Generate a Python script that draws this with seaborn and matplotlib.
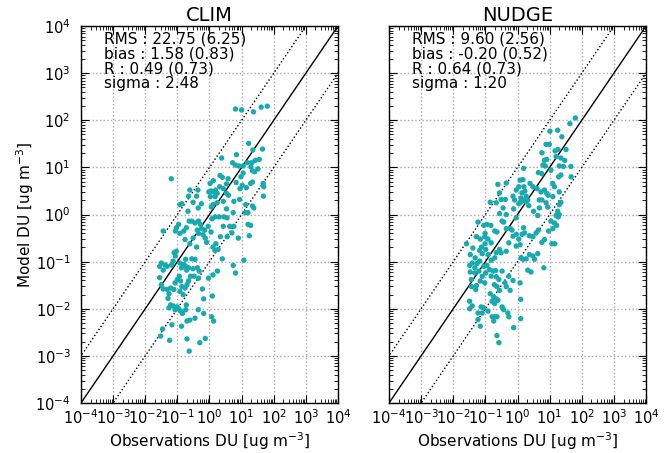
import numpy as np
import pandas as pd
import matplotlib
matplotlib.use("Agg")
import matplotlib.pyplot as plt
import seaborn as sns

# Dust concentrations, stored as log10(ug m-3): observations vs model
clim_obs_log = [
    0.81, 1.00, 1.37, 1.61, 1.80, 1.22, 1.35, 1.65, 0.38, 0.84,
    0.72, 0.81, 0.92, 1.05, 1.18, 1.32, 1.43, 1.55, 1.29, 1.34,
    1.51, 1.41, -1.19, 0.33, 0.40, 0.12, 0.02, 0.58, 0.53, 0.83,
    0.98, 1.05, 1.02, 0.95, 1.28, 1.34, 1.67, 1.69, 1.68, 1.15,
    -0.02, 0.05, 0.12, 0.19, 0.24, 0.03, 0.18, -0.36, -0.40, -0.65,
    -0.61, 0.32, 0.43, 0.53, 0.59,
    -0.92, -0.86, -0.67, -0.51, -0.35, -0.25, 0.11, 0.24, 0.06, 0.43,
    0.76, 0.94, 1.13, 1.34, 1.38, 1.12, 1.20, 0.53, 0.74,
    -1.44, -1.03, -0.96, -1.06, -0.92, -0.80, -0.72, -0.63, -0.55, -0.45,
    -0.34, -0.28, -0.38, -0.24, -0.15, -0.04, 0.08, 0.17, 0.30, 0.45,
    0.55, 0.43, 0.63, 0.70, 0.34, 0.55, 0.20, 0.11, -0.13, -0.09,
    0.05, -0.20, -0.40, -0.61, -0.76, -0.51, -0.34, 0.90, 0.76, 1.20,
    1.28, 1.24, 1.07, 0.17, 0.27,
    -1.50, -1.55, -1.44, -1.38, -1.32, -1.18, -1.13, -1.10, -1.03, -1.06,
    -0.92, -0.87, -0.80, -0.74, -0.71, -0.65, -0.74, -0.55, -0.45, -0.38,
    -0.32, -0.48, -0.34, -0.03, 0.11, 0.25, 0.40, 0.74, 0.81,
    -1.55, -1.50, -1.44, -1.32, -1.26, -1.21, -1.11, -1.07, -1.00, -0.94,
    -0.90, -0.86, -0.92, -0.82, -0.76, -0.70, -0.65, -0.59, -0.51, -0.22,
    -0.18, 0.09,
    -1.29, -1.26, -1.13, -1.07, -1.01, -0.97, -0.90, -0.72, -0.74, -0.70,
    -0.61, -0.45, -0.35, -0.18, 0.07, 0.13, -0.84, -1.21, -1.46, -1.52,
    -1.17, -0.87, -1.24, -0.70, -0.30, -0.13, -0.63,
]
clim_mod_log = [
    2.24, 2.22, 2.18, 2.28, 2.30, 1.51, 1.37, 1.39, 1.20, 1.27,
    1.10, 1.05, 1.03, 1.03, 1.10, 1.10, 1.15, 1.17, 1.01, 0.93,
    0.97, 0.91, 0.76, 0.83, 0.79, 0.72, 0.66, 0.76, 0.65, 0.68,
    0.80, 0.88, 0.62, 0.55, 0.66, 0.69, 0.66, 0.59, 0.39, 0.57,
    0.48, 0.50, 0.48, 0.52, 0.45, 0.38, 0.38, 0.52, 0.39, 0.39,
    0.52, 0.59, 0.55, 0.45, 0.41,
    0.21, 0.23, 0.07, 0.26, 0.14, 0.23, 0.21, 0.25, 0.16, 0.28,
    0.28, 0.32, 0.21, 0.18, 0.14, 0.04, 0.04, 0.12, 0.04,
    -0.35, -0.28, -0.21, -0.35, -0.40, -0.35, -0.28, -0.14, -0.14, -0.18,
    -0.14, -0.21, -0.33, -0.30, -0.33, -0.25, -0.09, -0.05, -0.05, -0.05,
    -0.07, -0.25, -0.25, -0.39, -0.47, -0.47, -0.62, -0.69, -0.50, -0.59,
    -0.37, -0.43, -0.69, -0.62, -0.53, -0.50, -0.40, -0.50, -0.25, -0.21,
    -0.23, -0.45, -0.97, -0.76, -0.74,
    -1.03, -1.10, -1.18, -1.07, -1.10, -1.07, -0.99, -0.81, -0.78, -0.88,
    -1.03, -1.13, -1.06, -1.10, -1.18, -1.13, -0.95, -0.94, -0.95, -1.13,
    -1.20, -1.31, -1.35, -1.35, -1.28, -1.20, -0.94, -1.08, -1.24,
    -1.34, -1.49, -1.58, -1.59, -1.68, -1.56, -1.59, -1.45, -1.38, -1.31,
    -1.41, -1.53, -1.63, -1.70, -1.56, -1.49, -1.41, -1.31, -1.15, -1.58,
    -1.79, -1.73,
    -1.78, -1.98, -1.94, -2.02, -1.96, -1.99, -2.05, -1.92, -2.02, -2.26,
    -2.24, -2.20, -2.02, -2.10, -2.17, -2.26, -2.10, -1.92, -2.43, -2.58,
    -2.34, -2.37, -2.67, -2.64, -2.72, -2.63, -2.90,
]

nudge_obs_log = [
    1.80, 1.63, 1.01, 1.25, 1.38, 0.89, 0.99, 1.17, 1.26, 1.51,
    0.76, 0.84, 0.91, 1.20, 1.35, 1.47, 0.79, 0.87, 1.30, 1.43,
    1.66, 0.19, 0.65, 0.75, 1.04, 1.28, 1.35, 1.67, -0.61, -0.35,
    0.08, 0.17, 0.39, 0.04, 0.20, -0.04, 0.14, 0.23, 0.73, 0.84,
    1.10, 1.15, 0.48, 0.61, 0.91, 0.95, 1.10, 1.30, -0.56, -0.51,
    -0.38, -0.14, -0.09, 0.11, 0.27, 0.32, 0.68, 0.76,
    -0.85, -0.66, 0.04, 0.10, 0.17, 0.27, 0.89, 1.30, 1.35, 1.25,
    1.20, 0.94, 0.68, 0.63, 0.50, 0.35, -0.45, -0.56, -0.35, -0.12,
    -0.04,
    -1.59, -1.23, -1.05, -0.95, -0.83, -1.01, -1.02, -0.92, -0.82, -0.71,
    -0.64, -0.48, -0.43, -0.35, -0.23, -0.17, -0.04, 0.04, 0.14, 0.22,
    0.19, 0.37, 0.48, 0.58, 0.65, 0.76, 0.84, 0.97, 1.10, 1.04,
    1.15, 1.22, 1.27, 1.30, 1.07, 1.16, -1.28, -1.16, -1.01, -1.12,
    -1.39, -1.47, -1.32, -1.18, -1.10, -0.99, -0.91, -0.82, -0.71, -0.66,
    -0.56, -0.51, -0.35, -0.27, -0.14, -0.04, 0.08, 0.11, 0.17, 0.27,
    0.37, 0.48, 0.53, 0.63, 0.32, 0.42, 0.82,
    -1.49, -1.41, -1.33, -1.26, -1.18, -1.20, -1.33, -1.47, -1.44, -1.28,
    -1.43, -1.30, -1.16, -1.10, -1.02, -0.99, -1.05, -0.95, -0.87, -0.82,
    -0.76, -0.68, -0.66, -0.72, -0.64, -0.58, -0.56, -0.48, -0.39, -0.35,
    -0.27, -0.23, -0.14, 0.08, 0.10, -0.85, -0.74, -0.66, -0.79, -0.71,
    -0.61,
    -1.49, -1.49, -1.41, -1.23, -1.13, -1.05, -1.10, -0.92, -0.79, -0.71,
    -0.64, -0.74, -0.48, -0.43, -0.30, -0.27, -0.12, 0.10, -1.23, -1.16,
    -0.64, -0.58,
]
nudge_mod_log = [
    2.05, 1.93, 1.77, 1.79, 1.65, 1.49, 1.49, 1.35, 1.38, 1.38,
    1.31, 1.15, 1.17, 1.23, 1.20, 1.15, 1.05, 1.03, 1.03, 1.02,
    1.02, 0.98, 0.89, 0.87, 0.94, 0.80, 0.84, 0.80, 0.64, 0.67,
    0.73, 0.74, 0.66, 0.59, 0.59, 0.52, 0.46, 0.50, 0.48, 0.52,
    0.66, 0.59, 0.59, 0.55, 0.45, 0.41, 0.38, 0.48, 0.46, 0.32,
    0.32, 0.39, 0.31, 0.35, 0.39, 0.31, 0.31, 0.31,
    0.26, 0.25, 0.23, 0.26, 0.30, 0.28, 0.25, 0.21, 0.26, 0.07,
    -0.02, 0.16, 0.14, -0.02, 0.07, 0.19, 0.14, 0.02, 0.00, 0.12,
    -0.07,
    -0.62, -0.16, -0.23, -0.21, -0.23, -0.40, -0.47, -0.52, -0.60, -0.35,
    -0.37, -0.14, -0.16, -0.30, -0.30, -0.33, -0.42, -0.52, -0.42, -0.39,
    -0.28, -0.45, -0.47, -0.39, -0.33, -0.59, -0.53, -0.35, -0.30, -0.14,
    -0.18, -0.23, -0.05, 0.00, -0.62, -0.62, -0.47, -0.52, -0.62, -0.69,
    -0.71, -0.85, -0.92, -0.76, -0.83, -0.74, -0.85, -0.97, -0.92, -0.81,
    -0.74, -0.81, -0.78, -0.60, -0.46, -0.67, -0.64, -0.92, -0.95, -0.94,
    -0.85, -0.88, -0.95, -0.83, -1.18, -1.22, -1.13,
    -1.08, -1.03, -1.13, -1.04, -0.99, -1.20, -1.24, -1.22, -1.38, -1.51,
    -1.53, -1.59, -1.41, -1.31, -1.45, -1.24, -1.10, -1.08, -1.17, -1.31,
    -1.20, -1.19, -1.32, -1.49, -1.53, -1.38, -1.61, -1.20, -1.45, -1.53,
    -1.31, -1.61, -1.40, -1.45, -1.80, -1.68, -1.75, -1.79, -1.84, -1.89,
    -1.82,
    -1.84, -2.00, -1.94, -2.09, -1.96, -1.98, -2.09, -2.05, -2.17, -2.17,
    -2.17, -2.26, -1.96, -2.02, -2.09, -2.17, -2.40, -2.21, -2.23, -2.37,
    -2.57, -2.72,
]

panels = ["CLIM", "NUDGE"]
stats = {
    "CLIM": ["RMS : 22.75 (6.25)", "bias : 1.58 (0.83)", "R : 0.49 (0.73)", "sigma : 2.48"],
    "NUDGE": ["RMS : 9.60 (2.56)", "bias : -0.20 (0.52)", "R : 0.64 (0.73)", "sigma : 1.20"],
}

frames = []
for name, xo, ym in [("CLIM", clim_obs_log, clim_mod_log), ("NUDGE", nudge_obs_log, nudge_mod_log)]:
    frames.append(pd.DataFrame({
        "panel": name,
        "obs": 10.0 ** np.asarray(xo),
        "model": 10.0 ** np.asarray(ym),
    }))
data = pd.concat(frames, ignore_index=True)

plt.rcParams.update({
    "font.family": ["DejaVu Sans"],
    "xtick.direction": "in",
    "ytick.direction": "in",
    "xtick.top": True,
    "ytick.right": True,
    "xtick.major.size": 6,
    "ytick.major.size": 6,
    "xtick.minor.size": 3,
    "ytick.minor.size": 3,
    "xtick.labelsize": 10.5,
    "ytick.labelsize": 10.5,
    "axes.linewidth": 1.0,
})

fig = plt.figure(figsize=(6.72, 4.53), dpi=100)
ax_w, ax_h, ax_b = 0.3824, 0.832, 0.1104
axes = [fig.add_axes([0.1205, ax_b, ax_w, ax_h]),
        fig.add_axes([0.5789, ax_b, ax_w, ax_h])]

lo, hi = 1e-4, 1e4
ref = np.array([1e-5, 1e5])
for ax, name in zip(axes, panels):
    ax.set_xscale("log")
    ax.set_yscale("log")
    ax.set_xlim(lo, hi)
    ax.set_ylim(lo, hi)
    ax.grid(True, which="major", linestyle=":", color="#a8a8a8", linewidth=1.0)
    ax.set_axisbelow(True)
    ax.plot(ref, ref, color="black", linewidth=1.0)
    ax.plot(ref, ref * 10, color="black", linestyle=":", linewidth=1.0)
    ax.plot(ref, ref / 10, color="black", linestyle=":", linewidth=1.0)
    sns.scatterplot(data=data[data["panel"] == name], x="obs", y="model", ax=ax,
                    color="#17aab0", s=15, edgecolor="none", linewidth=0, zorder=3)
    ax.xaxis.set_major_locator(matplotlib.ticker.LogLocator(base=10, numticks=20))
    ax.yaxis.set_major_locator(matplotlib.ticker.LogLocator(base=10, numticks=20))
    ax.xaxis.set_minor_locator(matplotlib.ticker.LogLocator(base=10, subs=np.arange(2, 10), numticks=100))
    ax.yaxis.set_minor_locator(matplotlib.ticker.LogLocator(base=10, subs=np.arange(2, 10), numticks=100))
    ax.tick_params(which="both", top=True, right=True, direction="in")
    ax.tick_params(axis="x", pad=3.5)
    ax.tick_params(axis="y", pad=7.5)
    ax.set_title(name, fontsize=14, pad=4)
    ax.set_xlabel("Observations DU [ug m$^{-3}$]", fontsize=11, labelpad=3)
    ax.set_ylabel("")
    ax.text(0.088, 0.985, "\n".join(stats[name]), transform=ax.transAxes,
            ha="left", va="top", fontsize=11, linespacing=0.98)

axes[0].set_ylabel("Model DU [ug m$^{-3}$]", fontsize=11)
axes[0].yaxis.set_label_coords(-0.175, 0.5)
axes[1].tick_params(axis="y", labelleft=False)

fig.savefig("out.png", dpi=100)
